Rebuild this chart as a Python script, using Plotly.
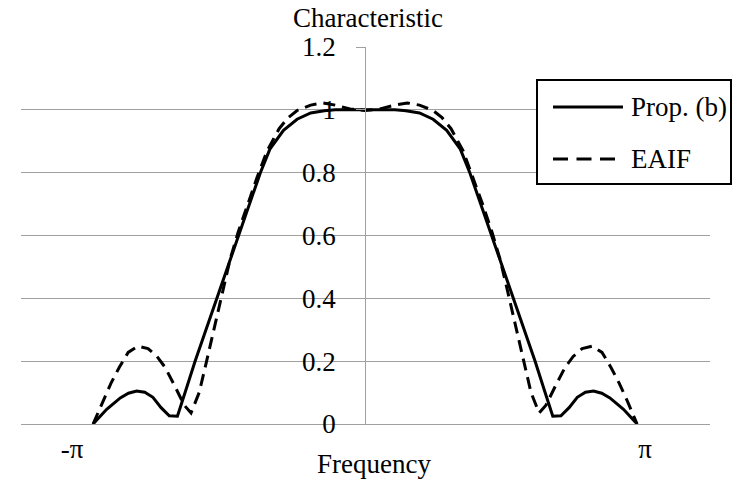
import plotly.graph_objects as go

# Normalised frequency (units of pi) and magnitude values
freq_prop = [-1.00, -0.95, -0.90, -0.87, -0.84, -0.81, -0.78, -0.75, -0.72, -0.69,
             -0.66, -0.625, -0.585, -0.545, -0.505, -0.465, -0.425, -0.385, -0.35,
             -0.30, -0.25, -0.20, -0.15, -0.11, 0.0, 0.11, 0.15, 0.20, 0.25, 0.30,
             0.35, 0.385, 0.425, 0.465, 0.505, 0.545, 0.585, 0.625, 0.66, 0.69, 0.72,
             0.75, 0.78, 0.81, 0.84, 0.87, 0.90, 0.95, 1.00]
prop_b = [0.0, 0.047, 0.083, 0.098, 0.105, 0.101, 0.085, 0.052, 0.026, 0.025,
          0.105, 0.20, 0.30, 0.40, 0.50, 0.60, 0.70, 0.80, 0.875,
          0.935, 0.97, 0.99, 0.997, 1.0, 1.0, 1.0, 0.997, 0.99, 0.97, 0.935,
          0.875, 0.80, 0.70, 0.60, 0.50, 0.40, 0.30, 0.20, 0.105, 0.025, 0.026,
          0.052, 0.085, 0.101, 0.105, 0.098, 0.083, 0.047, 0.0]

freq_eaif = [-1.0, -0.963, -0.934, -0.904, -0.871, -0.835, -0.798, -0.765, -0.735,
             -0.702, -0.665, -0.64, -0.61, -0.588, -0.566, -0.54, -0.518, -0.496,
             -0.467, -0.434, -0.397, -0.36, -0.316, -0.283, -0.25, -0.20, -0.155,
             -0.11, -0.055, 0.0, 0.055, 0.11, 0.155, 0.20, 0.25, 0.283, 0.316, 0.36,
             0.397, 0.434, 0.467, 0.496, 0.518, 0.54, 0.566, 0.588, 0.61, 0.64,
             0.665, 0.702, 0.735, 0.765, 0.798, 0.835, 0.871, 0.904, 0.934, 0.963, 1.0]
eaif = [0.0, 0.075, 0.13, 0.18, 0.228, 0.248, 0.24, 0.215, 0.18,
        0.125, 0.06, 0.035, 0.10, 0.18, 0.265, 0.36, 0.445, 0.525,
        0.61, 0.695, 0.785, 0.87, 0.94, 0.975, 0.998, 1.015, 1.022,
        1.015, 1.003, 0.998, 1.003, 1.015, 1.022, 1.015, 0.998, 0.975, 0.94, 0.87,
        0.785, 0.695, 0.61, 0.525, 0.445, 0.36, 0.265, 0.18, 0.10, 0.035,
        0.06, 0.125, 0.18, 0.215, 0.24, 0.248, 0.228, 0.18, 0.13, 0.075, 0.0]

y_ticks = [0, 0.2, 0.4, 0.6, 0.8, 1.0, 1.2]
y_tick_labels = ["0", "0.2", "0.4", "0.6", "0.8", "1", "1.2"]
x_tick_pos = [-1.077, 1.029]
x_tick_labels = ["-π", "π"]
series_names = ["Prop. (b)", "EAIF"]

FONT = "Liberation Serif"
FS = 27
GRID = "#a0a0a0"
X_RANGE = [-1.265, 1.268]

fig = go.Figure()
fig.add_trace(go.Scatter(x=freq_prop, y=prop_b, mode="lines", name=series_names[0],
                         line=dict(color="black", width=3)))
fig.add_trace(go.Scatter(x=freq_eaif, y=eaif, mode="lines", name=series_names[1],
                         line=dict(color="black", width=3, dash="12px,7px")))

ypos = (0 - X_RANGE[0]) / (X_RANGE[1] - X_RANGE[0])

fig.update_layout(
    width=733, height=479,
    margin=dict(l=21, r=23, t=47, b=55),
    paper_bgcolor="white", plot_bgcolor="white",
    showlegend=False,
    font=dict(family=FONT, size=FS, color="black"),
    xaxis=dict(range=X_RANGE, showgrid=False, zeroline=False, showline=False,
               tickvals=x_tick_pos, ticktext=x_tick_labels, ticks="",
               ticklabelstandoff=6, fixedrange=True),
    yaxis=dict(range=[0, 1.2], tickvals=y_ticks, ticktext=y_tick_labels,
               showgrid=True, gridcolor=GRID, gridwidth=1,
               zeroline=True, zerolinecolor=GRID, zerolinewidth=1,
               showline=True, linecolor=GRID, linewidth=1,
               anchor="free", position=ypos,
               ticks="outside", ticklen=9, tickcolor=GRID,
               ticklabelstandoff=15, fixedrange=True),
)

fig.add_annotation(text="Characteristic", xref="x", yref="paper", x=0.01, y=1.077,
                   xanchor="center", yanchor="middle", showarrow=False,
                   font=dict(family=FONT, size=FS, color="black"))
fig.add_annotation(text="Frequency", xref="paper", yref="paper", x=(374 - 21) / 689,
                   y=-0.107, xanchor="center", yanchor="middle", showarrow=False,
                   font=dict(family=FONT, size=FS, color="black"))

# Legend box drawn to match the reference (long sample lines)
def px_x(p):
    return (p - 21) / 689

def px_y(p):
    return (424 - p) / 377

fig.add_shape(type="rect", xref="paper", yref="paper",
              x0=px_x(537), x1=px_x(731), y0=px_y(184), y1=px_y(80),
              line=dict(color="black", width=2), fillcolor="white", layer="above")
legend_rows = [107, 159]
legend_dash = ["solid", "15px,8.5px"]
for name, row, dash in zip(series_names, legend_rows, legend_dash):
    fig.add_shape(type="line", xref="paper", yref="paper",
                  x0=px_x(553), x1=px_x(623), y0=px_y(row), y1=px_y(row),
                  line=dict(color="black", width=3, dash=dash), layer="above")
    fig.add_annotation(text=name, xref="paper", yref="paper", x=px_x(629), y=px_y(row),
                       xanchor="left", yanchor="middle", showarrow=False,
                       font=dict(family=FONT, size=FS, color="black"))

fig.write_html("out.html", config={"displayModeBar": False},
               post_script="document.body.style.margin='0px';")
